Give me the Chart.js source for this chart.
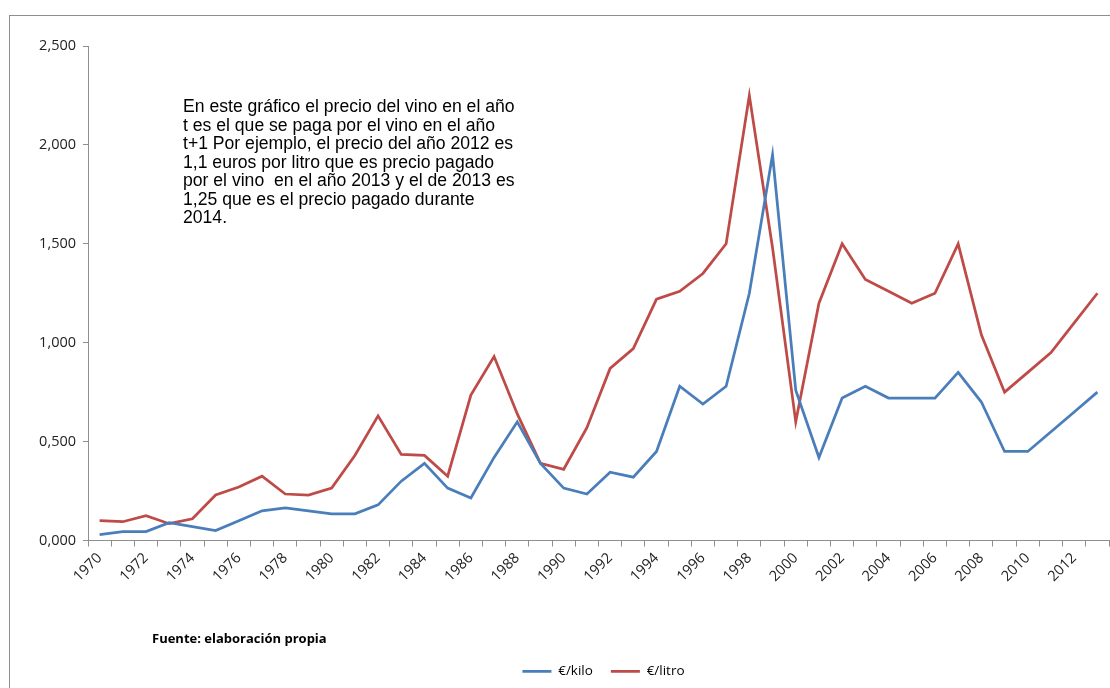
<!DOCTYPE html>
<html>
<head>
<meta charset="utf-8">
<script src="https://cdn.jsdelivr.net/npm/chart.js@4.4.1/dist/chart.umd.min.js"></script>
<style>
  html, body { margin: 0; padding: 0; background: #fff; width: 1110px; height: 688px; overflow: hidden; }
  #frame { position: absolute; left: 9px; top: 15px; width: 1191px; height: 700px; border: 1px solid #8e8e8e; }
  #chart { position: absolute; left: 0; top: 0; }
  #note { position: absolute; left: 173px; top: 81px; font: 17.6px "Liberation Sans", Arial, sans-serif;
          line-height: 18.5px; color: #000; white-space: pre; }
  #source { position: absolute; left: 142px; top: 613px; font: bold 13px "Open Sans", sans-serif; color: #000; }
</style>
</head>
<body>
<div id="frame">
  <canvas id="chart" width="1191" height="672"></canvas>
  <div id="note">En este gráfico el precio del vino en el año
t es el que se paga por el vino en el año
t+1 Por ejemplo, el precio del año 2012 es
1,1 euros por litro que es precio pagado
por el vino  en el año 2013 y el de 2013 es
1,25 que es el precio pagado durante
2014.</div>
  <div id="source">Fuente: elaboración propia</div>
</div>
<script>
const years = [
  "1970", "1971", "1972", "1973", "1974", "1975", "1976", "1977", "1978", "1979",
  "1980", "1981", "1982", "1983", "1984", "1985", "1986", "1987", "1988", "1989",
  "1990", "1991", "1992", "1993", "1994", "1995", "1996", "1997", "1998", "1999",
  "2000", "2001", "2002", "2003", "2004", "2005", "2006", "2007", "2008", "2009",
  "2010", "2011", "2012", "2013"
];

// €/kilo (uva)
const kilo = [
  0.03, 0.045, 0.045, 0.09, 0.07, 0.05, 0.10, 0.15, 0.165, 0.15,
  0.135, 0.135, 0.18, 0.30, 0.39, 0.265, 0.215, 0.42, 0.60, 0.39,
  0.265, 0.235, 0.345, 0.32, 0.45, 0.78, 0.69, 0.78, 1.25, 1.95,
  0.76, 0.42, 0.72, 0.78, 0.72, 0.72, 0.72, 0.85, 0.70, 0.45,
  0.45, 0.55, 0.65, 0.75
];

// €/litro (vino)
const litro = [
  0.10, 0.095, 0.125, 0.085, 0.11, 0.23, 0.27, 0.325, 0.235, 0.23,
  0.265, 0.43, 0.63, 0.435, 0.43, 0.325, 0.735, 0.93, 0.64, 0.39,
  0.36, 0.57, 0.87, 0.97, 1.22, 1.26, 1.35, 1.50, 2.25, 1.48,
  0.60, 1.20, 1.50, 1.32, 1.26, 1.20, 1.25, 1.50, 1.04, 0.75,
  0.85, 0.95, 1.10, 1.25
];

const yMin = 0;
const yMax = 2.5;
const yStep = 0.5;

const axisColor = "#8e8e8e";
const tickFont = { family: "Open Sans", size: 14.5 };

// the frame is cut at the right edge, so nudge the legend to sit under the plot
const legendShift = {
  id: "legendShift",
  afterLayout(chart) {
    chart.legend.left += 44;
    chart.legend.right += 44;
  },
};

new Chart(document.getElementById("chart").getContext("2d"), {
  type: "line",
  data: {
    labels: years,
    datasets: [
      {
        label: "€/kilo",
        data: kilo,
        borderColor: "#4a7ebb",
        backgroundColor: "#4a7ebb",
        borderWidth: 2.75,
        pointRadius: 0,
        tension: 0,
        fill: false,
      },
      {
        label: "€/litro",
        data: litro,
        borderColor: "#be4b48",
        backgroundColor: "#be4b48",
        borderWidth: 2.75,
        pointRadius: 0,
        tension: 0,
        fill: false,
      },
    ],
  },
  plugins: [legendShift],
  options: {
    responsive: false,
    animation: false,
    devicePixelRatio: 1,
    layout: { padding: { top: 30, right: 92, left: 0, bottom: 0 } },
    plugins: {
      tooltip: { enabled: false },
      legend: {
        position: "bottom",
        labels: {
          usePointStyle: true,
          pointStyle: "line",
          pointStyleWidth: 29,
          padding: 18,
          color: "#000",
          font: { family: "Open Sans", size: 13.5 },
        },
      },
    },
    scales: {
      x: {
        offset: true,
        grid: { offset: true, drawOnChartArea: false, drawTicks: true, tickLength: 6, color: axisColor },
        border: { color: axisColor },
        ticks: {
          autoSkip: false,
          minRotation: 45,
          maxRotation: 45,
          color: "#222",
          font: tickFont,
          callback: (v, i) => (i % 2 === 0 ? years[i] : ""),
        },
        afterFit: (s) => { s.height = 106; },
      },
      y: {
        min: yMin,
        max: yMax,
        grid: { drawOnChartArea: false, drawTicks: true, tickLength: 5, color: axisColor },
        border: { color: axisColor },
        ticks: {
          stepSize: yStep,
          color: "#222",
          font: tickFont,
          padding: 7,
          callback: (v) => v.toFixed(3).replace(".", ","),
        },
        afterFit: (s) => { s.width = 78; },
      },
    },
  },
});
</script>
</body>
</html>
